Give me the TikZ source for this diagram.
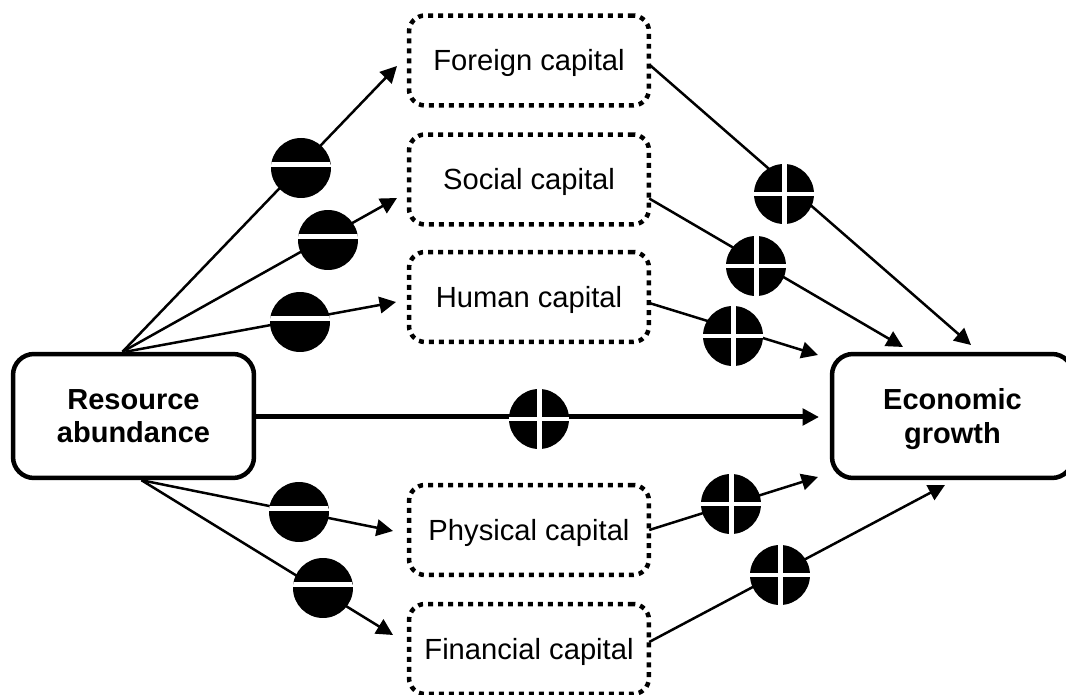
\documentclass[tikz,border=0pt]{standalone}
\usepackage{fontspec}
\setmainfont{Liberation Sans}
\usetikzlibrary{arrows.meta,calc}
\tikzset{
	mainbox/.style={draw, line width=0.09cm, rounded corners=0.42cm, minimum width=4.82cm, minimum height=2.48cm, align=center, font=\fontsize{16.5}{18.9}\selectfont\bfseries},
	channelbox/.style={draw, line width=0.09cm, dash pattern=on 0.1cm off 0.1cm, rounded corners=0.32cm, minimum width=4.8cm, minimum height=1.8cm, text height=0.42cm, text depth=0cm, font=\fontsize{16.6}{18.9}\selectfont},
	link/.style={line width=0.05cm, -{Triangle[length=0.33cm,width=0.33cm]}},
	mainlink/.style={line width=0.1cm, -{Triangle[length=0.33cm,width=0.33cm]}},
	minussign/.style={circle, fill=black, inner sep=0, minimum size=1.2cm, path picture={
		\draw[white, line width=0.1cm] ($(path picture bounding box.west)+(0,-3)$) -- ($(path picture bounding box.east)+(0,-3)$);}},
	plussign/.style={circle, fill=black, inner sep=0, minimum size=1.2cm, path picture={
		\draw[white, line width=0.085cm] (path picture bounding box.west) -- (path picture bounding box.east);
		\draw[white, line width=0.1cm] (path picture bounding box.north) -- (path picture bounding box.south);}},
}

\begin{document}
\begin{tikzpicture}[x=0.02cm, y=-0.02cm]
		%%%%% START %%%%%
		\useasboundingbox (0, 0) rectangle (1066, 695);
		
		\node[mainbox] (resource) at (133.5, 416) {Resource\\abundance};
		\node[mainbox] (growth) at (952.5, 416) {Economic\\\smash{growth}};
		
		\node[channelbox] (foreign) at (529, 60.5) {Foreign capital};
		\node[channelbox] (social) at (529, 179.5) {Social capital};
		\node[channelbox] (human) at (529, 297) {Human capital};
		\node[channelbox] (physical) at (529, 530) {Physical capital};
		\node[channelbox] (financial) at (529, 649) {Financial capital};
		
		% free arrow ends
		\coordinate (foreigntip) at (397, 66);
		\coordinate (socialtip) at (397, 198);
		\coordinate (humantip) at (396, 302);
		\coordinate (physicaltip) at (393, 531);
		\coordinate (financialtip) at (393, 635);
		\coordinate (growthtipa) at (971, 345);
		\coordinate (growthtipb) at (903, 347);
		\coordinate (growthtipc) at (818, 355);
		\coordinate (growthtipd) at (819, 417);
		\coordinate (growthtipe) at (818, 477);
		\coordinate (growthtipf) at (945, 485);
		
		\draw[link] ($(resource.north)+(-11, 0)$) -- (foreigntip);
		\draw[link] ($(resource.north)+(-11, 0)$) -- (socialtip);
		\draw[link] ($(resource.north)+(-8, 0)$) -- (humantip);
		\draw[link] ($(resource.south)+(8, 0)$) -- (physicaltip);
		\draw[link] ($(resource.south)+(8, 0)$) -- (financialtip);
		\draw[mainlink] ($(resource.east)+(0, 1)$) -- (growthtipd);
		
		\draw[link] ($(foreign.east)+(-2, 4)$) -- (growthtipa);
		\draw[link] ($(social.east)+(-2, 19)$) -- (growthtipb);
		\draw[link] ($(human.east)+(-2, 6)$) -- (growthtipc);
		\draw[link] ($(physical.east)+(-2, 0)$) -- (growthtipe);
		\draw[link] ($(financial.east)+(-2, -7)$) -- (growthtipf);
		
		\node[minussign] (minusa) at (301, 168) {};
		\node[minussign] (minusb) at (328, 240) {};
		\node[minussign] (minusc) at (300, 322) {};
		\node[minussign] (minusd) at (299, 512) {};
		\node[minussign] (minuse) at (323, 588) {};
		
		\node[plussign] (plusa) at (784, 194) {};
		\node[plussign] (plusb) at (756, 266) {};
		\node[plussign] (plusc) at (733, 336) {};
		\node[plussign] (plusd) at (539, 419) {};
		\node[plussign] (pluse) at (731, 504) {};
		\node[plussign] (plusf) at (780, 575) {};
		%%%%% END %%%%%
	\end{tikzpicture}
\end{document}
